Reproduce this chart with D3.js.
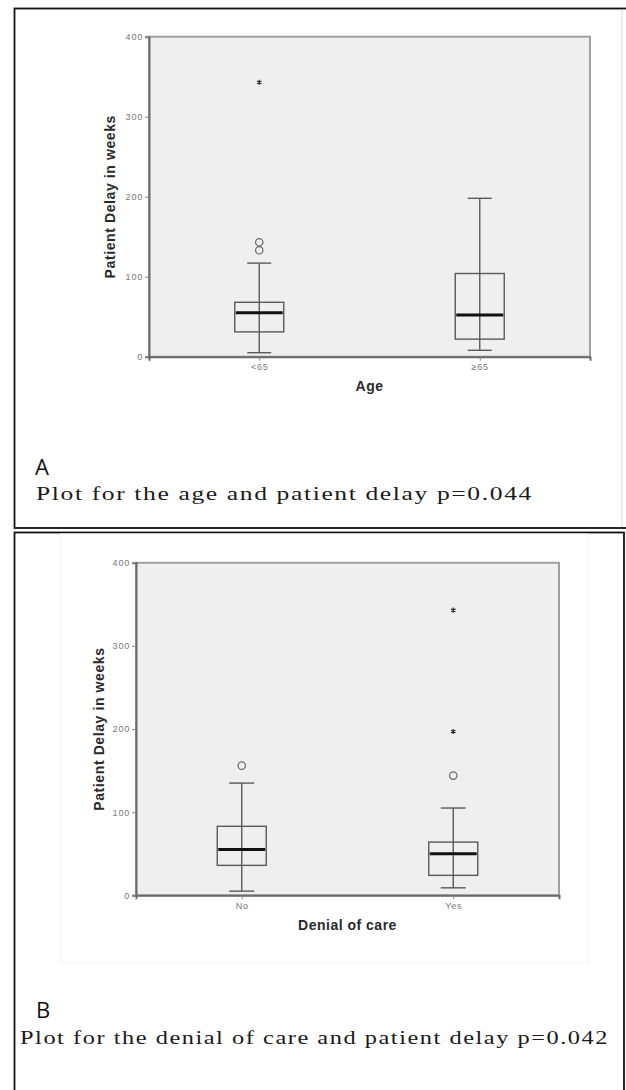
<!DOCTYPE html>
<html>
<head>
<meta charset="utf-8">
<script src="https://cdn.jsdelivr.net/npm/d3@7"></script>
<style>
  body { margin: 0; background: #fff; }
  svg { display: block; }
</style>
</head>
<body>
<svg id="chart" width="626" height="1090"></svg>
<script>
// ---------- DATA ----------
const yTicks = [0, 100, 200, 300, 400];
const yTitle = "Patient Delay in weeks";

// Panel A: Age
const ageCategories = ["<65", "≥65"];
const ageWhiskerLow = [5, 8];
const ageQ1 = [31, 22];
const ageMedian = [55, 52];
const ageQ3 = [68, 104];
const ageWhiskerHigh = [117, 198];
const ageOutliers = [[133, 143], []];
const ageExtremes = [[343], []];
const ageXTitle = "Age";
const ageLetter = "A";
const ageCaption = "Plot for the age and patient delay p=0.044";

// Panel B: Denial of care
const denialCategories = ["No", "Yes"];
const denialWhiskerLow = [5, 9];
const denialQ1 = [36, 24];
const denialMedian = [55, 50];
const denialQ3 = [83, 64];
const denialWhiskerHigh = [135, 105];
const denialOutliers = [[156], [144]];
const denialExtremes = [[], [197, 343]];
const denialXTitle = "Denial of care";
const denialLetter = "B";
const denialCaption = "Plot for the denial of care and patient delay p=0.042";

// ---------- DRAW ----------
const svg = d3.select("#chart");

// panel borders
svg.append("rect").attr("x", 14.5).attr("y", 8.5).attr("width", 625).attr("height", 519.5)
  .attr("fill", "none").attr("stroke", "#111").attr("stroke-width", 1.8);
svg.append("line").attr("x1", 622).attr("x2", 622).attr("y1", 10).attr("y2", 527)
  .attr("stroke", "#d8d8d8").attr("stroke-width", 1);
svg.append("rect").attr("x", 14.5).attr("y", 532.5).attr("width", 609.5).attr("height", 600)
  .attr("fill", "none").attr("stroke", "#111").attr("stroke-width", 1.8);
// faint embedded-image edge in panel B
svg.append("rect").attr("x", 60.5).attr("y", 534).attr("width", 527.5).attr("height", 429)
  .attr("fill", "none").attr("stroke", "#f2f2f2").attr("stroke-width", 1);

function drawPanel(cfg) {
  const g = svg.append("g");
  const x = d3.scalePoint().domain(cfg.categories).range([cfg.left, cfg.right]).padding(0.5);
  const y = d3.scaleLinear().domain([0, 400]).range([cfg.bottom, cfg.top]);

  // plot background + frame
  g.append("rect")
    .attr("x", cfg.left).attr("y", y(400))
    .attr("width", cfg.right - cfg.left).attr("height", y(0) - y(400))
    .attr("fill", "#efefef").attr("stroke", "#a0a0a0").attr("stroke-width", 2);

  // axes
  const yAxis = g.append("g").attr("transform", `translate(${cfg.left},0)`)
    .call(d3.axisLeft(y).tickValues(yTicks).tickSize(4).tickPadding(2));
  const xAxis = g.append("g").attr("transform", `translate(0,${cfg.bottom})`)
    .call(d3.axisBottom(x).tickSize(4).tickPadding(3));
  [yAxis, xAxis].forEach(a => {
    a.select(".domain").attr("stroke", "#6a6a6a").attr("stroke-width", 2);
    a.selectAll(".tick line").attr("stroke", "#888").attr("stroke-width", 1);
    a.selectAll(".tick text").attr("fill", "#777")
      .style("font-family", "Liberation Sans, Arial, sans-serif")
      .style("font-size", "9px").style("letter-spacing", "0.8px");
  });

  // boxes
  const idx = cfg.categories.map((c, i) => i);
  const boxes = g.selectAll("g.box").data(idx).join("g").attr("class", "box");
  const bw = cfg.boxWidth, cw = cfg.capWidth;
  boxes.append("line")
    .attr("x1", i => x(cfg.categories[i])).attr("x2", i => x(cfg.categories[i]))
    .attr("y1", i => y(cfg.whiskerLow[i])).attr("y2", i => y(cfg.whiskerHigh[i]))
    .attr("stroke", "#5a5a5a").attr("stroke-width", 1.4);
  boxes.append("line")
    .attr("x1", i => x(cfg.categories[i]) - cw / 2).attr("x2", i => x(cfg.categories[i]) + cw / 2)
    .attr("y1", i => y(cfg.whiskerHigh[i])).attr("y2", i => y(cfg.whiskerHigh[i]))
    .attr("stroke", "#5a5a5a").attr("stroke-width", 1.4);
  boxes.append("line")
    .attr("x1", i => x(cfg.categories[i]) - cw / 2).attr("x2", i => x(cfg.categories[i]) + cw / 2)
    .attr("y1", i => y(cfg.whiskerLow[i])).attr("y2", i => y(cfg.whiskerLow[i]))
    .attr("stroke", "#5a5a5a").attr("stroke-width", 1.4);
  boxes.append("rect")
    .attr("x", i => x(cfg.categories[i]) - bw / 2).attr("width", bw)
    .attr("y", i => y(cfg.q3[i])).attr("height", i => y(cfg.q1[i]) - y(cfg.q3[i]))
    .attr("fill", "none").attr("stroke", "#5a5a5a").attr("stroke-width", 1.4);
  boxes.append("line")
    .attr("x1", i => x(cfg.categories[i]) - bw / 2 + 1).attr("x2", i => x(cfg.categories[i]) + bw / 2 - 1)
    .attr("y1", i => y(cfg.median[i])).attr("y2", i => y(cfg.median[i]))
    .attr("stroke", "#111").attr("stroke-width", 3);

  // outliers (circles)
  const outl = [];
  cfg.outliers.forEach((arr, i) => arr.forEach(v => outl.push({ c: cfg.categories[i], v })));
  g.selectAll("circle.out").data(outl).join("circle").attr("class", "out")
    .attr("cx", d => x(d.c)).attr("cy", d => y(d.v)).attr("r", 3.7)
    .attr("fill", "none").attr("stroke", "#666").attr("stroke-width", 1.2);

  // extremes (stars)
  const ext = [];
  cfg.extremes.forEach((arr, i) => arr.forEach(v => ext.push({ c: cfg.categories[i], v })));
  g.selectAll("path.ext").data(ext).join("path").attr("class", "ext")
    .attr("transform", d => `translate(${x(d.c)},${y(d.v)})`)
    .attr("d", d3.symbol(d3.symbolAsterisk, 18))
    .attr("fill", "none").attr("stroke", "#333").attr("stroke-width", 1.3);

  // titles
  g.append("text")
    .attr("x", (cfg.left + cfg.right) / 2).attr("y", cfg.xTitleY)
    .attr("text-anchor", "middle")
    .style("font-family", "Liberation Sans, Arial, sans-serif")
    .style("font-weight", "bold").style("font-size", "14px").style("letter-spacing", "0.5px")
    .attr("fill", "#2a2a2a").text(cfg.xTitle);
  g.append("text")
    .attr("transform", `translate(${cfg.yTitleX},${(y(0) + y(400)) / 2}) rotate(-90)`)
    .attr("text-anchor", "middle").attr("dominant-baseline", "central")
    .style("font-family", "Liberation Sans, Arial, sans-serif")
    .style("font-weight", "bold").style("font-size", "14px").style("letter-spacing", "0.6px")
    .attr("fill", "#2a2a2a").text(yTitle);

  // letter + caption
  svg.append("text").attr("x", cfg.letterX).attr("y", cfg.letterY)
    .style("font-family", "Open Sans, sans-serif").style("font-size", "22px")
    .attr("fill", "#111").text(cfg.letter);
  svg.append("text").attr("x", cfg.captionX).attr("y", cfg.captionY)
    .attr("textLength", cfg.captionLen).attr("lengthAdjust", "spacingAndGlyphs")
    .style("font-family", "Liberation Serif, serif").style("font-size", "19px")
    .style("letter-spacing", "1.2px")
    .attr("fill", "#1a1a1a").text(cfg.caption);
}

drawPanel({
  categories: ageCategories, whiskerLow: ageWhiskerLow, q1: ageQ1, median: ageMedian,
  q3: ageQ3, whiskerHigh: ageWhiskerHigh, outliers: ageOutliers, extremes: ageExtremes,
  xTitle: ageXTitle, letter: ageLetter, caption: ageCaption,
  left: 149, right: 590, top: 36.7, bottom: 356.7,
  boxWidth: 49, capWidth: 24, xTitleY: 391, yTitleX: 110,
  letterX: 35, letterY: 475, captionX: 36, captionY: 500, captionLen: 497
});

drawPanel({
  categories: denialCategories, whiskerLow: denialWhiskerLow, q1: denialQ1, median: denialMedian,
  q3: denialQ3, whiskerHigh: denialWhiskerHigh, outliers: denialOutliers, extremes: denialExtremes,
  xTitle: denialXTitle, letter: denialLetter, caption: denialCaption,
  left: 136, right: 559, top: 562.8, bottom: 895.3,
  boxWidth: 49, capWidth: 25, xTitleY: 930, yTitleX: 99,
  letterX: 36, letterY: 1018, captionX: 20, captionY: 1044, captionLen: 589
});
</script>
</body>
</html>
